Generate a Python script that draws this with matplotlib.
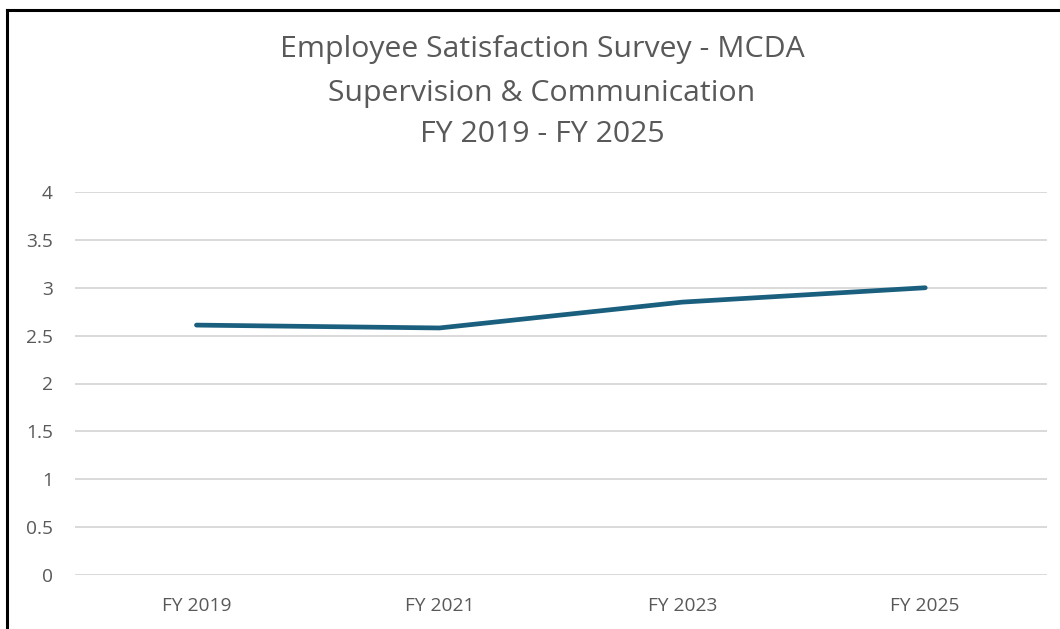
import matplotlib
matplotlib.use("Agg")
import matplotlib.pyplot as plt
from matplotlib.lines import Line2D

categories = ["FY 2019", "FY 2021", "FY 2023", "FY 2025"]
scores = [2.61, 2.58, 2.85, 3.00]
yticks = [0, 0.5, 1, 1.5, 2, 2.5, 3, 3.5, 4]
ytick_labels = ["0", "0.5", "1", "1.5", "2", "2.5", "3", "3.5", "4"]
title_lines = ["Employee Satisfaction Survey - MCDA",
               "Supervision & Communication",
               "FY 2019 - FY 2025"]

plt.rcParams['font.family'] = ['Open Sans', 'DejaVu Sans']

W, H = 1060, 629
fig = plt.figure(figsize=(W / 100, H / 100), dpi=100)
fig.patch.set_facecolor("white")

ax = fig.add_axes([75 / W, 1 - 575 / H, (1046.7 - 75) / W, (575 - 192) / H])
x = list(range(len(categories)))
ax.plot(x, scores, color="#1b5f7f", linewidth=3.4, solid_capstyle="round",
        solid_joinstyle="round", zorder=3)
ax.set_xlim(-0.5, len(categories) - 0.5)
ax.set_ylim(0, 4)
ax.set_yticks(yticks)
ax.set_yticklabels(ytick_labels)
ax.set_xticks(x)
ax.set_xticklabels(categories)
for s in ax.spines.values():
    s.set_visible(False)
ax.grid(axis="y", color="#d9d9d9", linewidth=1.4, zorder=0)
ax.grid(axis="x", visible=False)
ax.tick_params(axis="both", length=0, colors="#595959", labelsize=13.8)
ax.tick_params(axis="y", pad=16)
ax.tick_params(axis="x", pad=16)
ax.set_axisbelow(True)

ys = [49, 93, 135]
for t, yy in zip(title_lines, ys):
    fig.text(542 / W, 1 - yy / H, t, ha="center", va="center",
             fontsize=21.8, color="#595959")

# frame border (top and left)
fig.add_artist(Line2D([7 / W, 1], [1 - 9.5 / H, 1 - 9.5 / H], color="black",
                      linewidth=2.2, transform=fig.transFigure))
fig.add_artist(Line2D([7 / W, 7 / W], [1 - 9.5 / H, 0], color="black",
                      linewidth=2.2, transform=fig.transFigure))

fig.savefig("out.png", dpi=100, facecolor="white")
